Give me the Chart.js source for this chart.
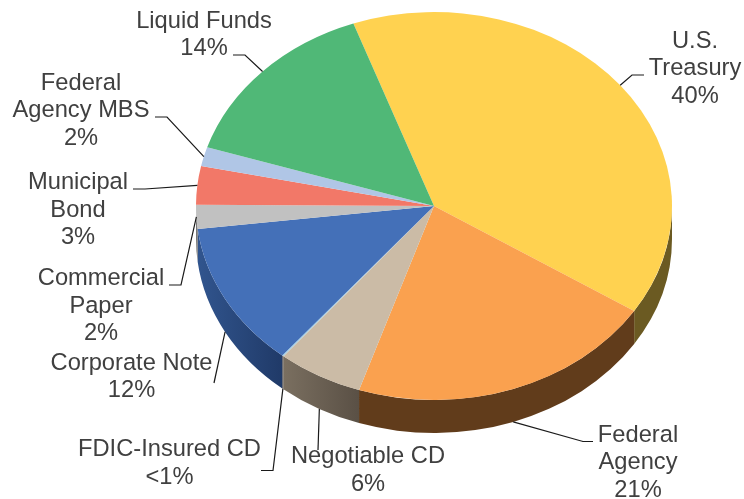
<!DOCTYPE html>
<html>
<head>
<meta charset="utf-8">
<style>html,body{margin:0;padding:0;background:#fff}canvas{display:block}</style>
<script src="https://cdn.jsdelivr.net/npm/chart.js@4"></script>
</head>
<body>
<canvas id="c" width="744" height="499"></canvas>
<script>
const categories = ["U.S. Treasury","Federal Agency","Negotiable CD","FDIC-Insured CD","Corporate Note","Commercial Paper","Municipal Bond","Federal Agency MBS","Liquid Funds"];
const values = [39.6,21,5.8,0.1,12.1,2,3.2,1.6,14.6];
const valueLabels = ["40%","21%","6%","<1%","12%","2%","3%","2%","14%"];
const labelLines = [["U.S.","Treasury"],["Federal","Agency"],["Negotiable CD"],["FDIC-Insured CD"],["Corporate Note"],["Commercial","Paper"],["Municipal","Bond"],["Federal","Agency MBS"],["Liquid Funds"]];
const topColors = ["#FFD250","#FAA14F","#CBBBA6","#A8D2E6","#4470B8","#C1C1C1","#F27868","#B0C6E6","#50B877"];
const sideColors = [["#6B5A22","#6B5A22"],["#613C1B","#613C1B"],["#7A6F60","#5A5045"],["#5A5045","#5A5045"],["#31558E","#203A68"],["#777777","#777777"],["#994444","#994444"],["#666677","#666677"],["#22AA66","#22AA66"]];

// layout (pixels): label centre x, first baseline, elbow point of the leader, leader end
const labelLayout = [
 {cx:695,y:47.5, elbow:[632,75],end:[644,75],depth:0},
 {cx:638,y:441.5,elbow:[583,441.5],end:[593,441.5],depth:1},
 {cx:368,y:463,elbow:null,end:[318,450],depth:1},
 {cx:169.5,y:456,elbow:[273,470.5],end:[261,470.5],depth:1},
 {cx:131.5,y:369.5,elbow:null,end:[214,383],depth:1},
 {cx:101,y:285,elbow:[181,285],end:[169,285],depth:0},
 {cx:78,y:189,elbow:[145,189],end:[133,189],depth:0},
 {cx:81,y:89.5,elbow:[167,117],end:[155,117],depth:0},
 {cx:204,y:27.5,elbow:[245,55],end:[233,55],depth:0}
];
const centerY = 206, squash = 0.815, depth = 33, lineH = 27.6;

const pie3d = {
  id:'pie3d',
  beforeDatasetsDraw(chart){
    const ctx = chart.ctx, arcs = chart.getDatasetMeta(0).data;
    const cy0 = arcs[0].y;
    ctx.save();
    const map = ()=>{ctx.translate(0,centerY);ctx.scale(1,squash);ctx.translate(0,-cy0);};
    arcs.forEach((a,i)=>{
      const TAU = Math.PI*2;
      let s = a.startAngle, e = a.endAngle;
      [0,TAU,-TAU].forEach(k=>{
        const ss = Math.max(s+k,0), ee = Math.min(e+k,Math.PI);
        if(ee<=ss) return;
        const R = a.outerRadius, x1 = a.x+R*Math.cos(ss), x2 = a.x+R*Math.cos(ee);
        const g = ctx.createLinearGradient(x2,0,x1,0);
        g.addColorStop(0,sideColors[i][0]); g.addColorStop(1,sideColors[i][1]);
        ctx.fillStyle = g;
        ctx.beginPath();
        ctx.save();map();ctx.arc(a.x,a.y,R,ss,ee,false);ctx.restore();
        ctx.save();ctx.translate(0,depth);map();ctx.arc(a.x,a.y,R,ee,ss,true);ctx.restore();
        ctx.closePath();
        ctx.fill();
      });
    });
    ctx.restore();
    ctx.save();
    map();
  },
  afterDatasetsDraw(chart){
    const ctx = chart.ctx, arcs = chart.getDatasetMeta(0).data;
    ctx.restore();
    ctx.save();
    arcs.forEach((a,i)=>{
      const L = labelLayout[i], m = (a.startAngle+a.endAngle)/2;
      const ax = a.x+a.outerRadius*Math.cos(m);
      const ay = centerY+a.outerRadius*squash*Math.sin(m)+(L.depth?depth:0);
      ctx.strokeStyle="#1a1a1a";ctx.lineWidth=1.2;
      ctx.beginPath();ctx.moveTo(ax,ay);
      if(L.elbow) ctx.lineTo(L.elbow[0],L.elbow[1]);
      ctx.lineTo(L.end[0],L.end[1]);ctx.stroke();
      ctx.fillStyle="#404040";ctx.font="23.7px 'Liberation Sans'";
      ctx.textAlign="center";ctx.textBaseline="alphabetic";
      const lines = labelLines[i].concat([valueLabels[i]]);
      lines.forEach((t,j)=>ctx.fillText(t,L.cx,L.y+j*lineH));
    });
    ctx.restore();
  }
};

new Chart(document.getElementById('c'),{
  type:'pie',
  data:{labels:categories,datasets:[{data:values,backgroundColor:topColors,borderWidth:0}]},
  options:{
    responsive:false,animation:false,devicePixelRatio:1,rotation:-19.8,
    layout:{padding:{left:196,right:72,top:11.5,bottom:11.5}},
    plugins:{legend:{display:false},tooltip:{enabled:false}}
  },
  plugins:[pie3d]
});
</script>
</body>
</html>
